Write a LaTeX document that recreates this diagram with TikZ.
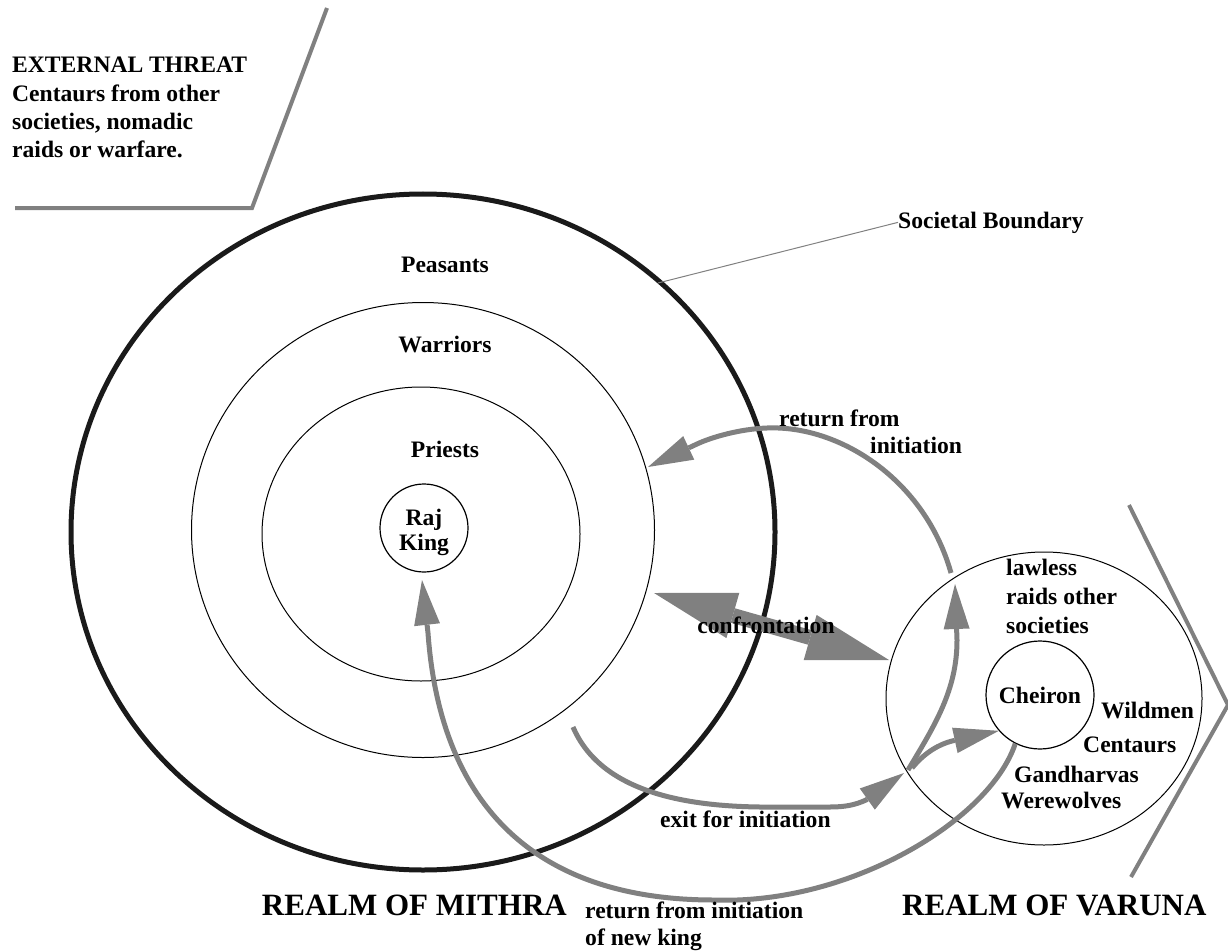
\documentclass[tikz,border=0pt]{standalone}
\usepackage{fontspec}
\setmainfont{Liberation Serif}
\usetikzlibrary{arrows.meta,shapes.geometric}
\definecolor{ink}{HTML}{1A1A1A}
\definecolor{pathgray}{HTML}{808080}
\begin{document}
\begin{tikzpicture}[x=1pt,y=-1pt,
  lbl/.style={font=\bfseries\fontsize{23.6pt}{28.5pt}\selectfont, inner sep=0pt},
  big/.style={font=\bfseries\fontsize{31pt}{36pt}\selectfont, inner sep=0pt},
  ring/.style={draw=black, line width=1pt, ellipse, inner sep=0pt},
  boundary/.style={draw=ink, line width=5pt, ellipse, inner sep=0pt},
  disc/.style={draw=black, line width=1.2pt, circle, inner sep=0pt},
  garrow/.style={draw=pathgray, line width=5pt,
    -{Triangle[length=45pt, width=26pt, line width=0pt]}},
  confront/.style={draw=pathgray, line width=15pt,
    {Triangle[length=82pt, width=47pt, line width=0pt]}-{Triangle[length=82pt, width=47pt, line width=0pt]}},
  frameline/.style={draw=pathgray, line width=4pt, line join=miter},
  leader/.style={draw=pathgray, line width=1pt}
]
\useasboundingbox (0,0) rectangle (1228,952);

% ---- shapes of the realm of Mithra
\node[boundary, minimum width=704pt, minimum height=676pt] (society) at (423,532) {};
\node[ring, minimum width=463pt, minimum height=455pt] (warriors) at (423,530) {};
\node[ring, minimum width=318pt, minimum height=294pt] (priests) at (421,534) {};
\node[disc, minimum size=88pt] (raj) at (424,528) {};

% ---- realm of Varuna
\node[ring, minimum width=316pt, minimum height=293pt] (varuna) at (1044,698.5) {};
\node[disc, lbl, minimum size=108pt] (cheiron) at (1040,695) {Cheiron};

% ---- outer frames
\coordinate (tA) at (327,8);
\coordinate (tB) at (252,208);
\coordinate (tC) at (15,208);
\draw[frameline] (tA) -- (tB) -- (tC);
\coordinate (rA) at (1129,505);
\coordinate (rB) at (1228,705);
\coordinate (rC) at (1131,877);
\draw[frameline] (rA) -- (rB) -- (rC);

% ---- labels inside Mithra
\node[lbl, anchor=base] (peasants) at (445,272) {Peasants};
\node[lbl, anchor=base] (warriorsL) at (445,352) {Warriors};
\node[lbl, anchor=base] (priestsL) at (445,457) {Priests};
\node[lbl, anchor=base] (rajL) at (424,525) {Raj};
\node[lbl, anchor=base] (kingL) at (424,550) {King};

% ---- external threat
\node[lbl, anchor=base west] (et1) at (12,73) {EXTERNAL THREAT};
\node[lbl, anchor=base west] (et2) at (12,102) {Centaurs from other};
\node[lbl, anchor=base west] (et3) at (12,130) {societies, nomadic};
\node[lbl, anchor=base west] (et4) at (12,158) {raids or warfare.};

% ---- societal boundary
\node[lbl, anchor=base west] (sb) at (898,228) {Societal Boundary};
\coordinate (sbP) at (658,283);
\draw[leader] (sbP) -- (sb.west);

% ---- connectors
\coordinate (confL) at (654,593);
\coordinate (confR) at (889,660);
\draw[confront] (confL) -- (confR);

\coordinate (exitS) at (573,727);
\coordinate (fork) at (904,773);
\draw[garrow] (exitS) .. controls (600,790) and (680,806) .. (760,807) -- (830,807)
  .. controls (845,807) and (855,805) .. (866,800) -- (fork);

\coordinate (upS) at (908,770);
\coordinate (upE) at (955,584);
\draw[garrow] (upS) .. controls (935,725) and (957,690) .. (957,640) -- (upE);

\coordinate (chS) at (912,768);
\draw[garrow] (chS) .. controls (925,752) and (940,744) .. (952,741) -- (cheiron.221);

\coordinate (retS) at (951,573);
\coordinate (retE) at (648,467);
\draw[garrow] (retS) .. controls (925,480) and (840,425) .. (767,428)
  .. controls (740,429) and (712,437) .. (697,444) -- (retE);

\coordinate (kingE) at (422,580);
\draw[garrow] (cheiron.243) .. controls (990,820) and (850,905) .. (714,900)
  .. controls (530,900) and (440,800) .. (428,633) -- (kingE);

% ---- connector labels
\node[lbl, anchor=base west] (rf1) at (779,426) {return from};
\node[lbl, anchor=base west] (rf2) at (870,453) {initiation};
\node[lbl, anchor=base] (conf) at (766,633) {confrontation};
\node[lbl, anchor=base west] (exitL) at (660,827) {exit for initiation};
\node[lbl, anchor=base west] (nk1) at (585,918) {return from initiation};
\node[lbl, anchor=base west] (nk2) at (585,945) {of new king};

% ---- Varuna labels
\node[lbl, anchor=base west] (lw1) at (1006,575) {lawless};
\node[lbl, anchor=base west] (lw2) at (1006,604) {raids other};
\node[lbl, anchor=base west] (lw3) at (1006,633) {societies};
\node[lbl, anchor=base west] (wild) at (1101,718) {Wildmen};
\node[lbl, anchor=base west] (cent) at (1083,752) {Centaurs};
\node[lbl, anchor=base west] (gand) at (1014,782) {Gandharvas};
\node[lbl, anchor=base west] (were) at (1001,808) {Werewolves};

% ---- realm titles
\node[big, anchor=base east] (mithra) at (567,915) {REALM OF MITHRA};
\node[big, anchor=base west] (varunaL) at (902,915) {REALM OF VARUNA};
\end{tikzpicture}
\end{document}
